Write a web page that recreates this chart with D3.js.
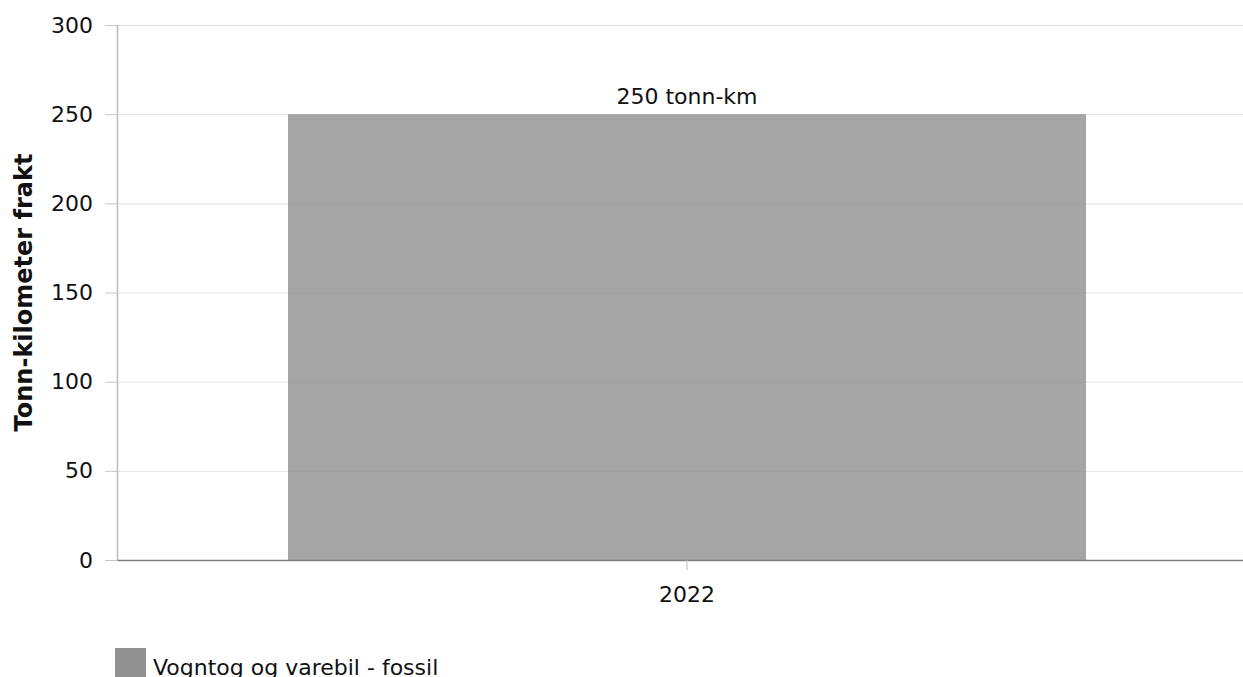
<!DOCTYPE html>
<html>
<head>
<meta charset="utf-8">
<script src="https://cdnjs.cloudflare.com/ajax/libs/d3/7.8.5/d3.min.js"></script>
<style>
  body { margin: 0; background: #fff; }
  svg { display: block; font-family: "DejaVu Sans", Verdana, sans-serif; }
</style>
</head>
<body>
<svg id="chart" width="1243" height="677"></svg>
<script>
// data
var years = ["2022"];
var values = [250];
var seriesName = "Vogntog og varebil - fossil";
var yTicks = [0, 50, 100, 150, 200, 250, 300];
var unit = "tonn-km";
var yTitle = "Tonn-kilometer frakt";

var svg = d3.select("#chart");
var padLeft = 117, padRight = 1257, padTop = 25, padBottom = 560;
var fontSize = "22px";

var x = d3.scaleBand()
	.domain(years)
	.range([padLeft, padRight])
	.paddingInner(0.3)
	.paddingOuter(0.15);

var y = d3.scaleLinear()
	.domain([0, 300])
	.range([padBottom, padTop]);

// grid
svg.append("g")
	.selectAll("line")
	.data(yTicks)
	.enter().append("line")
	.attr("x1", padLeft)
	.attr("x2", padRight)
	.attr("y1", function(d){ return y(d) + 0.5; })
	.attr("y2", function(d){ return y(d) + 0.5; })
	.attr("stroke", "#e3e3e3")
	.attr("stroke-width", 1);

// y axis
var yAxis = svg.append("g")
	.attr("transform", "translate(" + padLeft + ",0)")
	.call(d3.axisLeft(y).tickValues(yTicks).tickSize(12).tickPadding(12));
yAxis.select(".domain").remove();
yAxis.selectAll(".tick line").attr("stroke", "#c8c8c8");
yAxis.selectAll(".tick text")
	.attr("font-size", fontSize)
	.attr("font-family", "DejaVu Sans, Verdana, sans-serif")
	.attr("fill", "#111");

svg.append("line")
	.attr("x1", padLeft + 0.5).attr("x2", padLeft + 0.5)
	.attr("y1", padTop).attr("y2", padBottom)
	.attr("stroke", "#bdbdbd")
	.attr("stroke-width", 1.5);

// bars
svg.append("g")
	.selectAll("rect")
	.data(values)
	.enter().append("rect")
	.attr("x", function(d, i){ return x(years[i]); })
	.attr("y", function(d){ return y(d); })
	.attr("width", x.bandwidth())
	.attr("height", function(d){ return y(0) - y(d); })
	.attr("fill", "#919191")
	.attr("fill-opacity", 0.82);

// bar labels
svg.append("g")
	.selectAll("text")
	.data(values)
	.enter().append("text")
	.attr("x", function(d, i){ return x(years[i]) + x.bandwidth() / 2; })
	.attr("y", function(d){ return y(d) - 10; })
	.attr("text-anchor", "middle")
	.attr("font-size", fontSize)
	.attr("fill", "#111")
	.text(function(d){ return d + " " + unit; });

// x axis
var xAxis = svg.append("g")
	.attr("transform", "translate(0," + padBottom + ")")
	.call(d3.axisBottom(x).tickSize(10).tickPadding(16).tickSizeOuter(0));
xAxis.select(".domain").attr("stroke", "#7f7f7f").attr("stroke-width", 1.5);
xAxis.selectAll(".tick line").attr("stroke", "#bbb");
xAxis.selectAll(".tick text")
	.attr("font-size", fontSize)
	.attr("font-family", "DejaVu Sans, Verdana, sans-serif")
	.attr("fill", "#111");

// y title
svg.append("text")
	.attr("transform", "translate(32," + ((padTop + padBottom) / 2) + ") rotate(-90)")
	.attr("text-anchor", "middle")
	.attr("font-size", "24px")
	.attr("font-weight", "bold")
	.attr("fill", "#111")
	.text(yTitle);

// legend
var legend = svg.append("g").attr("transform", "translate(115,648)");
legend.append("rect")
	.attr("width", 31).attr("height", 30)
	.attr("fill", "#919191");
legend.append("text")
	.attr("x", 38).attr("y", 27)
	.attr("font-size", fontSize)
	.attr("fill", "#111")
	.text(seriesName);
</script>
</body>
</html>
